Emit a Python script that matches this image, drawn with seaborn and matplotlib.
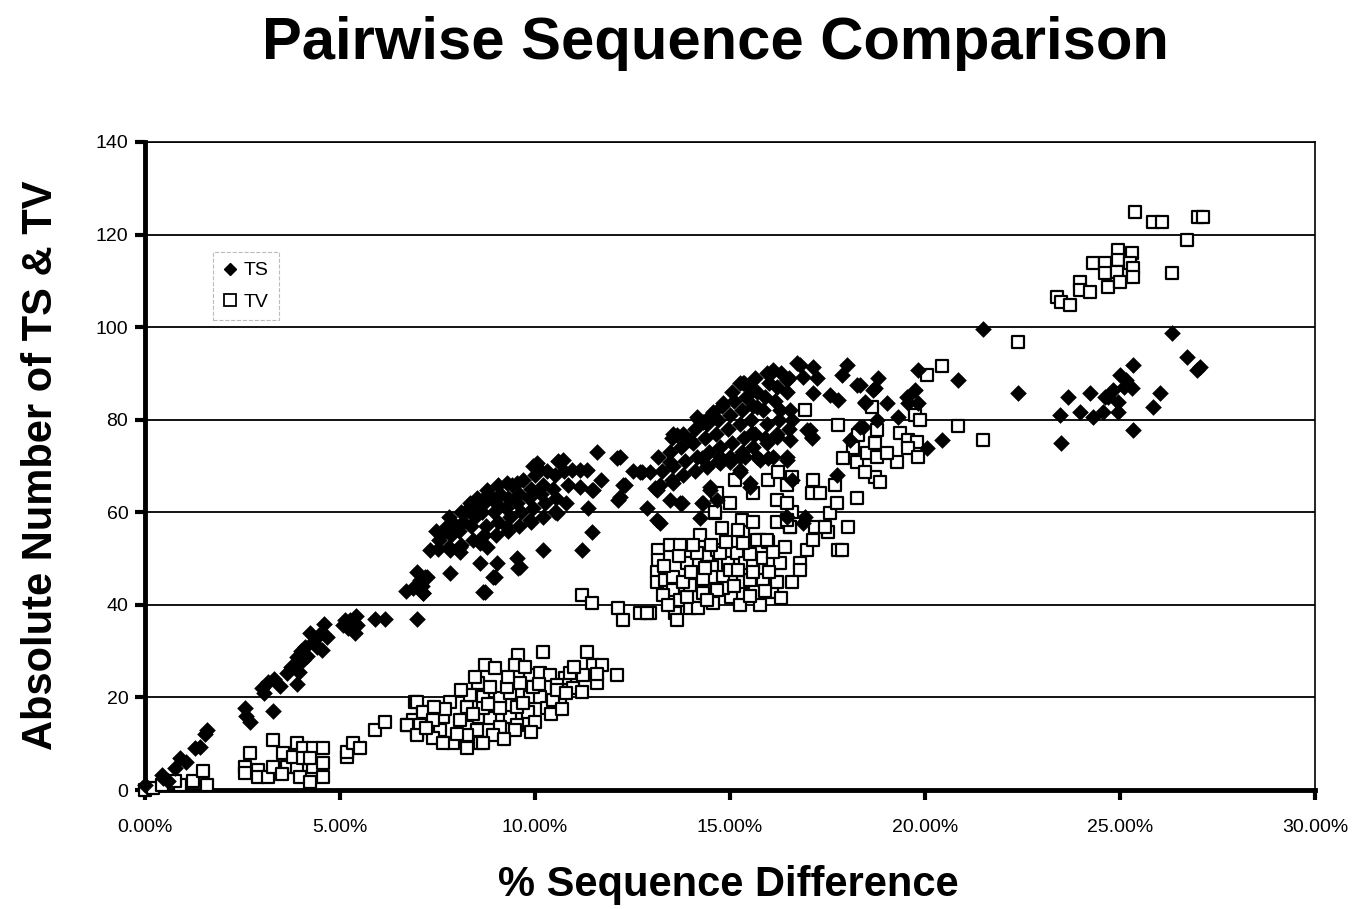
import numpy as np
import pandas as pd
import matplotlib
matplotlib.use("Agg")
import matplotlib.pyplot as plt
from matplotlib.lines import Line2D
from matplotlib.ticker import FuncFormatter
import seaborn as sns

# TS (transitions): % sequence difference, absolute number
ts_points = [
    # 0-2 %
    (0.0, 1), (0.46, 2.6), (0.6, 2), (0.43, 3.2), (0.77, 4.7), (0.9, 7), (1.05, 6),
    (1.28, 9), (1.41, 9.3), (1.55, 12), (1.6, 13),
    # 2.5-5 %
    (2.56, 17.7), (2.69, 14.7), (2.6, 16), (3.28, 17), (3.0, 22), (3.15, 23.3), (3.05, 21),
    (3.3, 24), (3.45, 22.5), (3.64, 25.2), (3.75, 26.5), (3.9, 23), (3.85, 27), (3.9, 28.7),
    (4.0, 30), (4.1, 31), (4.05, 28), (4.23, 34), (4.3, 32), (4.15, 29), (4.4, 31),
    (4.54, 30.2), (4.6, 35.8), (4.67, 33), (4.45, 33.5), (3.95, 25.5),
    # 5-7 %
    (5.08, 35.6), (5.26, 36.7), (5.2, 35), (5.44, 35.6), (5.38, 34), (5.13, 36.7), (5.4, 37.5),
    (5.9, 37), (6.15, 37), (6.97, 37), (6.87, 43.6), (7.05, 45.4), (7.13, 42.5), (6.7, 43),
    (6.97, 47), (7.23, 46), (7.1, 44),
    # 7-12 %
    (7.31, 51.8), (8.33, 62), (8.77, 64.8), (9.28, 66.3), (10.05, 70.6), (10.72, 71.3),
    (7.82, 51.8), (8.6, 53.3), (9.28, 56.8), (9.87, 58.3), (10.56, 59.8), (7.82, 46.9),
    (8.67, 42.8), (8.97, 46), (8.6, 49), (9.54, 50.1), (9.62, 48.2), (9.03, 49), (8.08, 52.5),
    (8.77, 52.5), (10.2, 51.8), (11.2, 51.8), (11.46, 55.7), (11.36, 60.9), (11.15, 65.4),
    (11.49, 64.8), (11.33, 69.1), (10.95, 69.1), (7.18, 46), (7.13, 42.5), (11.59, 73),
    (7.64, 55.5), (7.9, 57.7), (8.26, 60.5), (8.77, 63.3), (9.54, 66.3), (10.05, 69.8),
    (11.15, 69.1), (12.1, 71.7), (12.26, 65.9), (12.13, 62.6), (11.7, 67), (11.46, 64.8),
    (9.56, 48), (8.92, 46), (8.72, 42.8), (8.08, 51.4),
    (7.5, 52), (7.55, 54), (7.45, 56),
    (7.8, 52.5), (7.85, 55), (7.75, 57), (7.8, 59),
    (8.1, 53), (8.05, 56), (8.15, 58), (8.1, 60),
    (8.4, 54), (8.35, 57), (8.45, 59), (8.4, 61), (8.5, 63),
    (8.7, 55), (8.75, 57), (8.65, 60), (8.7, 62), (8.8, 64),
    (9.0, 55), (9.05, 58), (8.95, 60), (9.0, 62), (9.1, 64), (9.05, 66),
    (9.3, 56), (9.35, 59), (9.25, 61), (9.3, 63), (9.4, 66),
    (9.6, 57), (9.65, 60), (9.55, 62), (9.6, 64), (9.7, 67),
    (9.9, 58), (9.95, 61), (9.85, 63), (9.9, 65), (10.0, 68), (9.95, 70),
    (10.2, 59), (10.25, 62), (10.15, 64), (10.2, 66), (10.3, 69),
    (10.5, 60), (10.55, 63), (10.45, 65), (10.5, 68), (10.6, 71),
    (10.8, 62), (10.85, 66), (10.75, 69),
    (12.18, 72), (12.3, 66), (12.18, 63.3), (12.74, 68.7), (12.95, 68.7), (12.5, 69),
    # 13-17 %
    (12.87, 61), (13.54, 77), (14.15, 80.6), (14.82, 83.6), (15.26, 87.9), (16.1, 90.7),
    (16.8, 91.8), (13.54, 66.3), (14.4, 69.8), (15.26, 72), (16.1, 72), (16.54, 75.6),
    (17.1, 76.2), (16.97, 77.8), (16.28, 82), (16.46, 88.5), (17.13, 85.7), (16.87, 89.2),
    (13.13, 64.8), (13.46, 62.6), (13.13, 58.3), (13.72, 62), (14.28, 62), (14.49, 64.8),
    (14.74, 70.6), (15.26, 69.1), (15.77, 71.3), (16.46, 72), (15.5, 66.3), (12.69, 68.7),
    (16.46, 59), (16.87, 57.7), (16.72, 92.2), (17.13, 91.4), (14.23, 58.7), (14.3, 62),
    (14.67, 62.6), (13.08, 65.2), (13.77, 62), (13.64, 76.7), (13.46, 70.8), (14.3, 79.5),
    (14.56, 81.6), (15.33, 87.9), (16.08, 90.3), (15.56, 86.4), (15.69, 82.7), (16.6, 79.9),
    (16.2, 76.2), (15.56, 77.1), (15.95, 74.9), (15.38, 72), (15.69, 72), (15.97, 71.7),
    (16.46, 71.3), (16.6, 67), (16.92, 59), (14.74, 72), (15.0, 70.8), (15.26, 68.7),
    (14.49, 65.4), (15.5, 65.4), (14.28, 71.7), (13.97, 75.6), (13.2, 57.7),
    (13.2, 66), (13.25, 69), (13.15, 72),
    (13.5, 67), (13.55, 70), (13.45, 73), (13.5, 76),
    (13.8, 68), (13.85, 71), (13.75, 74), (13.8, 77),
    (14.1, 69), (14.15, 72), (14.05, 75), (14.1, 78), (14.2, 80),
    (14.4, 70), (14.45, 73), (14.35, 76), (14.4, 79), (14.5, 81),
    (14.7, 71), (14.75, 74), (14.65, 77), (14.7, 80), (14.8, 83),
    (15.0, 72), (15.05, 75), (14.95, 78), (15.0, 81), (15.1, 84), (15.05, 86),
    (15.3, 73), (15.35, 76), (15.25, 79), (15.3, 82), (15.4, 85), (15.35, 88),
    (15.6, 74), (15.65, 77), (15.55, 80), (15.6, 83), (15.7, 86), (15.65, 89),
    (15.9, 76), (15.95, 79), (15.85, 82), (15.9, 85), (16.0, 88), (15.95, 90),
    (16.2, 77), (16.25, 80), (16.15, 84), (16.2, 87), (16.3, 90),
    (16.5, 78), (16.55, 82), (16.45, 86), (16.5, 89),
    # 17-22 %
    (17.23, 89), (17.56, 85.3), (17.77, 84.2), (18.0, 91.8), (17.87, 89.6), (18.26, 87.5),
    (18.67, 86.4), (18.46, 83.8), (17.74, 68), (18.08, 75.6), (18.4, 78.4), (17.05, 77.8),
    (17.1, 76), (18.33, 87.5), (18.8, 89), (18.72, 86.8), (19.03, 83.6), (18.46, 83.6),
    (18.33, 78.4), (18.77, 79.9), (19.3, 80.6), (19.82, 90.7), (19.74, 86.4), (19.54, 84.9),
    (19.82, 83.6), (19.56, 83.6), (20.05, 73.9), (20.44, 75.6), (20.85, 88.6), (21.49, 99.6),
    (22.38, 85.7),
    # 23-27 %
    (23.46, 81), (23.5, 74.9), (23.67, 84.9), (23.97, 81.6), (24.23, 85.7), (24.3, 80.6),
    (24.56, 81.6), (24.62, 84.9), (24.82, 86.4), (25.0, 89.6), (25.33, 91.8), (25.3, 86.8),
    (24.95, 83.8), (24.95, 81.6), (25.33, 77.8), (25.85, 82.7), (26.03, 85.7), (26.33, 98.7),
    (26.72, 93.5), (27.05, 91.4), (26.97, 90.7), (25.15, 88.5), (24.7, 85), (25.1, 87),
]

# TV (transversions)
tv_points = [
    # 0-2 %
    (0.0, 0), (0.2, 0.5), (0.44, 1), (0.9, 1), (0.77, 2), (1.23, 2), (1.49, 4), (1.6, 1),
    # 2.5-5 %
    (2.56, 5), (2.56, 3.7), (2.69, 8), (2.9, 4.3), (2.9, 2.8), (3.15, 2.8), (3.28, 5),
    (3.28, 10.8), (3.54, 8), (3.64, 5), (3.9, 10.2), (3.9, 5), (3.8, 7.1), (3.97, 2.8),
    (4.05, 9), (4.31, 9), (4.56, 9), (4.31, 5), (4.56, 5.8), (4.56, 2.8), (4.23, 1.7),
    (4.05, 6.9), (4.23, 6.9), (3.5, 3.5),
    # 5-7 %
    (5.18, 7.1), (5.18, 8.2), (5.33, 10.2), (5.5, 9), (5.9, 13), (6.15, 14.7), (6.72, 14),
    (6.92, 19), (6.97, 12.3), (7.13, 16.8), (6.87, 15.1),
    # 7-12 %
    (9.56, 29.2), (10.2, 29.8), (11.33, 29.8), (8.72, 27), (8.97, 26.3), (9.49, 27),
    (11.49, 27), (11.72, 27), (12.1, 24.8), (11.23, 24.8), (11.59, 23.1), (8.54, 23.1),
    (9.87, 24.8), (10.13, 25.3), (10.38, 24.8), (10.77, 24.2), (10.56, 22.7), (10.97, 22),
    (11.2, 21.2), (8.67, 20), (9.1, 19.9), (9.36, 21), (9.87, 20), (10.13, 20), (10.64, 19.4),
    (6.97, 19), (7.82, 19), (8.26, 17.9), (7.13, 16.8), (7.64, 15.8), (8.54, 15.8),
    (8.85, 15.6), (9.36, 15.8), (9.82, 16.8), (10.31, 17.7), (10.46, 19.4), (6.72, 14),
    (7.05, 14), (7.56, 13), (8.26, 13.6), (8.51, 13), (9.1, 13.6), (9.54, 14), (10.0, 14.7),
    (6.97, 11.9), (7.38, 11.2), (7.9, 10.2), (8.26, 11.9), (8.59, 10.2), (8.92, 11.9),
    (9.49, 13), (8.26, 9.1), (7.64, 10.2), (8.67, 10.2),
    (8.33, 20.5), (8.85, 22.2), (9.28, 22.2), (9.62, 23.1), (9.54, 17.9), (9.95, 22.2),
    (9.1, 17.7), (8.67, 17.7), (8.08, 15.1), (7.38, 15.1), (10.56, 21.6), (10.9, 25.3),
    (7.2, 13.5), (7.7, 17.5), (8.0, 12), (8.4, 16.5), (8.8, 18.5), (9.2, 11), (9.7, 18.8),
    (10.1, 23), (10.4, 16.5), (10.8, 21), (11.0, 26.5), (9.3, 24.5), (8.1, 21.5), (7.4, 18),
    (9.9, 12.5), (10.7, 17.5), (11.6, 25), (8.45, 24.5), (9.75, 26.5),
    # 11-13 %
    (11.2, 42.1), (11.46, 40.4), (12.13, 39.3), (12.26, 36.7), (12.7, 38.2), (12.95, 38.2),
    # 13-18 %
    (13.15, 51.8), (13.46, 52.9), (13.72, 52.9), (13.15, 49.7), (13.13, 47.1), (13.13, 45),
    (13.33, 45.4), (13.54, 43.2), (13.28, 42.1), (13.72, 41), (13.59, 38.2), (13.64, 36.7),
    (12.87, 38.2), (13.97, 39.3), (14.18, 39.3), (13.54, 46), (13.9, 49), (14.1, 44.3),
    (14.4, 50.8), (14.67, 51.8), (14.23, 55.1), (14.62, 59.8), (14.54, 48.2), (14.56, 46),
    (14.56, 40.4), (14.82, 46), (14.95, 49), (15.03, 41.7), (15.26, 40), (14.82, 43.6),
    (15.18, 51.2), (15.33, 55.7), (15.3, 58.3), (15.59, 57.9), (15.38, 49), (15.59, 49),
    (15.33, 45), (15.5, 45.4), (15.85, 50.1), (15.77, 54), (15.97, 53.6), (15.85, 45.4),
    (15.77, 40), (16.08, 42.8), (16.1, 49), (16.28, 49), (16.2, 45), (16.2, 57.9),
    (16.54, 56.8), (16.59, 60), (16.8, 49), (16.8, 47.5), (16.97, 51.8), (17.13, 54),
    (17.18, 56.8), (17.51, 55.7), (17.56, 59.8), (17.77, 51.8), (15.0, 47.5), (14.67, 43.2),
    (14.3, 42.5), (13.9, 41.7), (13.97, 44.3), (14.74, 51.2), (14.15, 51.2),
    (13.3, 48.5), (13.8, 45), (14.0, 47), (14.3, 45.5), (14.5, 53), (14.9, 53.5), (15.1, 44),
    (15.5, 42), (15.6, 47), (15.2, 47.5), (14.4, 41), (13.4, 40), (16.0, 47), (16.4, 52.5),
    (16.6, 45), (16.3, 41.5), (15.9, 43), (14.8, 56.5), (14.05, 53), (13.7, 50.5),
    (16.1, 51.5), (15.5, 51), (14.35, 48),
    (14.67, 64.1), (15.0, 62), (15.13, 67), (15.59, 64.1), (15.97, 67), (16.2, 62.6),
    (16.23, 68.7), (16.46, 62), (16.59, 67.6), (16.46, 65.9), (17.13, 67), (17.1, 64.1),
    (17.31, 64.1), (17.74, 62), (17.69, 65.9), (18.26, 63), (18.03, 56.8), (17.87, 51.8),
    (17.44, 56.8), (16.92, 82), (17.77, 78.8), (18.28, 76.7), (18.64, 82.7), (18.15, 73.9),
    (17.9, 71.7), (18.26, 70.8), (18.51, 72.8), (18.72, 67.6), (18.46, 68.7), (14.62, 60),
    (15.2, 56.2), (15.33, 53.3), (15.69, 54), (15.95, 54), (16.54, 56.8), (16.46, 58.3),
    # 18.5-22.5 %
    (20.05, 89.6), (20.44, 91.6), (19.74, 81), (19.87, 79.9), (20.85, 78.6), (21.49, 75.6),
    (22.38, 96.8), (18.77, 77.8), (18.72, 74.9), (18.77, 71.9), (18.85, 66.5), (19.28, 70.8),
    (19.03, 72.8), (19.36, 77.1), (19.56, 75.6), (19.79, 75.2), (19.56, 73.9), (19.82, 71.9),
    # 23-27 %
    (23.38, 106.5), (23.5, 105.4), (23.72, 104.8), (23.97, 109.7), (23.97, 108), (24.23, 107.6),
    (24.3, 113.8), (24.62, 113.8), (24.62, 111.7), (24.69, 108.6), (24.95, 116.6), (24.95, 114.5),
    (24.92, 111.9), (25.0, 109.7), (25.3, 116), (25.26, 113.8), (25.33, 112.7), (25.33, 110.8),
    (26.33, 111.7), (26.72, 118.8), (25.38, 124.8), (25.85, 122.7), (26.08, 122.7),
    (27.0, 123.8), (27.13, 123.8),
]

ts_diff = [p[0] for p in ts_points]
ts_count = [p[1] for p in ts_points]
tv_diff = [p[0] for p in tv_points]
tv_count = [p[1] for p in tv_points]

x_ticks = [0, 5, 10, 15, 20, 25, 30]
y_ticks = [0, 20, 40, 60, 80, 100, 120, 140]

sns.set_style("white")
plt.rcParams["font.family"] = ["Liberation Sans", "DejaVu Sans"]
plt.rcParams["text.color"] = "black"
plt.rcParams["axes.labelcolor"] = "black"
plt.rcParams["xtick.color"] = "black"
plt.rcParams["ytick.color"] = "black"

df = pd.concat([
    pd.DataFrame({"diff": ts_diff, "count": ts_count, "kind": "TS"}),
    pd.DataFrame({"diff": tv_diff, "count": tv_count, "kind": "TV"}),
], ignore_index=True)

fig = plt.figure(figsize=(13.53, 9.09), dpi=100)
ax = fig.add_axes([0.1072, 0.1309, 0.8647, 0.7129])

sns.scatterplot(data=df[df["kind"] == "TV"], x="diff", y="count", marker="s", s=66,
                facecolor="white", edgecolor="black", linewidth=1.6, ax=ax,
                clip_on=False, zorder=3, legend=False)
sns.scatterplot(data=df[df["kind"] == "TS"], x="diff", y="count", marker="D", s=72,
                color="black", linewidth=0, ax=ax, clip_on=False, zorder=4, legend=False)

ax.set_xlim(0, 30)
ax.set_ylim(0, 140)
ax.set_xticks(x_ticks)
ax.set_yticks(y_ticks)
ax.xaxis.set_major_formatter(FuncFormatter(lambda v, p: f"{v:.2f}%"))
ax.grid(axis="y", color="black", linewidth=1.3)
ax.set_axisbelow(True)
ax.set_xlabel("")
ax.set_ylabel("")

for side in ["left", "bottom"]:
    ax.spines[side].set_linewidth(3.5)
for side in ["top", "right"]:
    ax.spines[side].set_linewidth(1.2)
for sp in ax.spines.values():
    sp.set_color("black")

ax.tick_params(axis="both", direction="out", length=7, width=3, labelsize=14,
               colors="black", left=True, bottom=True)
ax.tick_params(axis="x", pad=14)
ax.tick_params(axis="y", pad=5)

handles = [
    Line2D([], [], marker="D", color="black", linestyle="none", markersize=6),
    Line2D([], [], marker="s", markerfacecolor="white", markeredgecolor="black",
           markeredgewidth=1.3, linestyle="none", markersize=8),
]
leg = ax.legend(handles, ["TS", "TV"], loc="upper left", bbox_to_anchor=(0.058, 0.83),
                borderaxespad=0, fontsize=14, handlelength=0.8, handletextpad=0.3,
                labelspacing=0.7, borderpad=0.5, fancybox=False, frameon=True)
leg.get_frame().set_edgecolor("#aaaaaa")
leg.get_frame().set_linestyle("--")
leg.get_frame().set_linewidth(0.8)

fig.text(0.529, 0.952, "Pairwise Sequence Comparison", ha="center", va="center",
         fontsize=43, fontweight="bold")
fig.text(0.5385, 0.026, "% Sequence Difference", ha="center", va="center",
         fontsize=30, fontweight="bold")
fig.text(0.030, 0.488, "Absolute Number of TS & TV", ha="center", va="center",
         rotation=90, fontsize=30, fontweight="bold")

fig.savefig("out.png", dpi=100)
plt.close(fig)
